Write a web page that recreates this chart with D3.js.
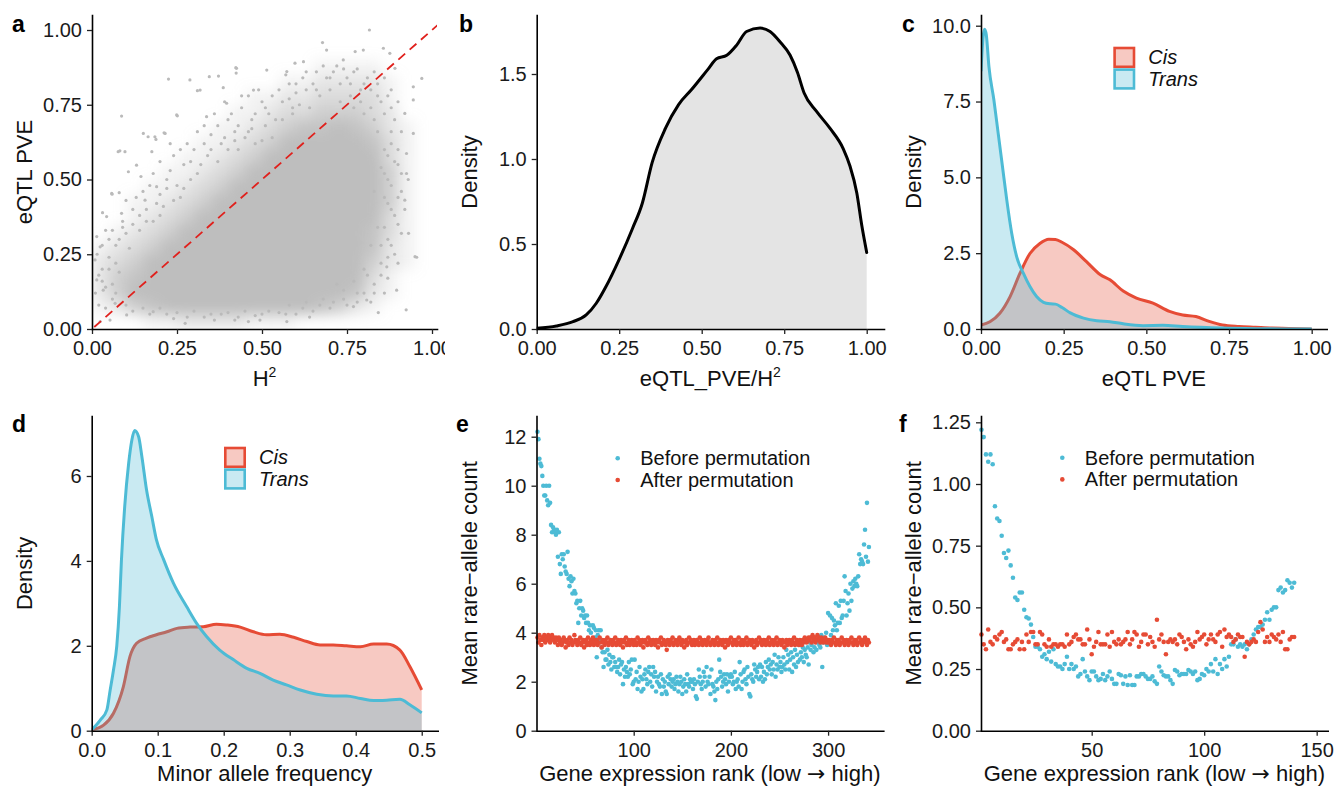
<!DOCTYPE html>
<html><head><meta charset="utf-8">
<script src="https://cdn.jsdelivr.net/npm/d3@7"></script>
<style>body{margin:0;background:#fff}</style>
</head><body>
<svg id="c" width="1335" height="787"></svg>
<script>
// ---------------- DATA ----------------
// Panel a: density of the point cloud (rows top→bottom, y bins of 0.05 from 1.0 down; cols x bins of 0.05), 0–9
const aDensity = [
 [0,0,0,0,0,0,0,0,0,0,0,0,0,0,0,0,0,0,0,0],
 [0,0,0,0,0,0,0,0,0,0,0,0,0,0,0,0,0,0,0,0],
 [0,0,0,0,0,0,0,0,0,0,0,0,0,1,1,1,1,0,0,0],
 [0,0,0,0,0,0,0,0,0,0,0,1,1,2,2,2,2,1,0,0],
 [0,0,0,0,0,0,0,0,0,1,1,2,2,3,3,3,3,1,0,0],
 [0,0,0,0,0,0,0,0,1,1,2,3,3,4,4,4,3,2,0,0],
 [0,0,0,0,0,0,0,1,1,2,3,4,5,5,6,5,4,2,1,0],
 [0,0,0,0,0,0,1,1,2,3,4,6,7,7,7,6,5,3,1,0],
 [0,0,0,0,0,1,1,2,3,4,6,7,8,8,8,7,6,3,1,0],
 [0,0,0,0,1,1,2,3,4,6,7,8,9,9,9,8,6,4,1,0],
 [0,0,0,1,1,2,3,4,6,7,8,9,9,9,9,9,6,4,1,0],
 [0,0,1,1,2,3,4,6,7,8,9,9,9,9,9,9,6,4,1,0],
 [0,0,1,2,3,4,6,7,8,9,9,9,9,9,9,8,6,3,1,0],
 [0,1,2,3,4,6,7,8,9,9,9,9,9,9,9,8,5,3,1,0],
 [1,2,3,4,6,7,8,9,9,9,9,9,9,9,9,8,5,2,1,0],
 [2,3,4,6,7,8,9,9,9,9,9,9,9,9,9,7,4,2,1,0],
 [2,4,5,7,8,9,9,9,9,9,9,9,9,9,8,6,3,1,0,0],
 [2,4,6,7,8,9,9,9,9,9,9,9,9,8,7,5,2,1,0,0],
 [1,2,4,5,6,7,8,8,8,8,7,7,6,5,4,2,1,0,0,0],
 [0,0,0,1,1,2,2,2,2,1,1,1,0,0,0,0,0,0,0,0]
];
// Panel a: individual scattered points [H2, eQTL PVE]
const aPoints = [
 [0.816,1.0],[0.678,0.958],[0.69,0.933],[0.774,0.928],[0.798,0.933],[0.857,0.939],[0.876,0.922],[0.97,0.838],[0.891,0.872],[0.622,0.894],
 [0.597,0.889],[0.425,0.872],[0.514,0.866],[0.573,0.861],[0.739,0.9],[0.225,0.836],[0.288,0.833],[0.372,0.846],[0.318,0.799],[0.475,0.799],
 [0.087,0.712],[0.249,0.716],[0.337,0.71],[0.396,0.755],[0.945,0.81],[0.945,0.766],[0.92,0.721],[0.945,0.654],[0.925,0.587],[0.925,0.52],
 [0.92,0.431],[0.931,0.32],[0.95,0.242],[0.955,0.24],[0.896,0.13],[0.924,0.064],[0.842,0.055],[0.867,0.208],[0.808,0.097],[0.769,0.075],
 [0.573,0.025],[0.494,0.03],[0.42,0.03],[0.274,0.019],[0.18,0.058],[0.102,0.047],[0.053,0.03],[0.024,0.025],[0.014,0.309],[0.024,0.275],
 [0.058,0.454],[0.077,0.593],[0.097,0.593],[0.107,0.526],[0.131,0.548],[0.151,0.654],[0.185,0.643],[0.215,0.654],[0.156,0.431],[0.19,0.476],
 [0.087,0.387],[0.043,0.376],[0.009,0.231],[0.014,0.164],[0.033,0.13],[0.068,0.086],[0.345,0.844],[0.423,0.874],[0.424,0.856],[0.31,0.797],
 [0.386,0.807],[0.251,0.713],[0.165,0.643],[0.212,0.656],[0.188,0.634],[0.082,0.596],[0.144,0.51],[0.059,0.451],[0.08,0.456],[0.031,0.389],
 [0.176,0.593],[0.2,0.45],[0.22,0.5],[0.25,0.48],[0.27,0.55],[0.24,0.58],[0.3,0.6],[0.32,0.55],[0.28,0.62],[0.35,0.65],
 [0.33,0.68],[0.38,0.62],[0.4,0.7],[0.42,0.66],[0.36,0.72],[0.44,0.74],[0.47,0.7],[0.5,0.76],[0.46,0.78],[0.52,0.72],
 [0.55,0.8],[0.58,0.77],[0.6,0.82],[0.57,0.85],[0.63,0.8],[0.66,0.86],[0.69,0.84],[0.72,0.88],[0.75,0.84],[0.78,0.87],
 [0.8,0.82],[0.83,0.86],[0.86,0.84],[0.88,0.8],[0.9,0.76],[0.89,0.7],[0.91,0.66],[0.88,0.62],[0.9,0.55],[0.87,0.5],
 [0.91,0.46],[0.88,0.4],[0.9,0.35],[0.87,0.3],[0.89,0.25],[0.85,0.22],[0.87,0.17],[0.83,0.15],[0.8,0.12],[0.78,0.09],
 [0.74,0.1],[0.7,0.07],[0.65,0.06],[0.6,0.05],[0.55,0.055],[0.5,0.05],[0.45,0.06],[0.4,0.055],[0.35,0.05],[0.3,0.06],
 [0.25,0.055],[0.2,0.07],[0.15,0.07],[0.1,0.08],[0.06,0.1],[0.04,0.14],[0.03,0.2],[0.05,0.24],[0.07,0.28],[0.1,0.32],
 [0.12,0.35],[0.14,0.38],[0.16,0.4],[0.18,0.36],[0.11,0.27],[0.08,0.19],[0.13,0.44],[0.17,0.48],[0.21,0.41],[0.23,0.53],
 [0.26,0.44],[0.29,0.5],[0.31,0.66],[0.34,0.58],[0.37,0.56],[0.39,0.76],[0.43,0.6],[0.45,0.64],[0.48,0.62],[0.51,0.68],
 [0.53,0.64],[0.56,0.7],[0.59,0.72],[0.61,0.75],[0.64,0.74],[0.67,0.78],[0.7,0.8],[0.73,0.76],[0.76,0.78],[0.79,0.76],
 [0.82,0.74],[0.84,0.78],[0.86,0.72],[0.84,0.66],[0.86,0.6],[0.85,0.54],[0.83,0.46],[0.86,0.44],[0.84,0.34],[0.82,0.28],
 [0.85,0.28],[0.8,0.2],[0.77,0.16],[0.81,0.18],[0.74,0.13],[0.72,0.15],[0.68,0.1],[0.63,0.09],[0.58,0.08],
 [0.06,0.33],[0.09,0.36],[0.12,0.4],[0.1,0.43],[0.15,0.46],[0.18,0.52],[0.2,0.56],[0.22,0.47],[0.24,0.43],[0.27,0.47],
 [0.29,0.56],[0.31,0.52],[0.33,0.62],[0.35,0.6],[0.26,0.6],[0.23,0.62],[0.19,0.42],[0.14,0.33],[0.16,0.36],[0.2,0.38],
 [0.37,0.68],[0.39,0.64],[0.41,0.72],[0.43,0.68],[0.44,0.78],[0.46,0.66],[0.48,0.72],[0.49,0.8],[0.51,0.74],[0.53,0.78],
 [0.54,0.7],[0.56,0.76],[0.58,0.82],[0.59,0.74],[0.6,0.79],[0.62,0.84],[0.4,0.6],[0.42,0.63],[0.47,0.67],[0.5,0.63],
 [0.63,0.86],[0.65,0.82],[0.66,0.8],[0.68,0.88],[0.7,0.84],[0.71,0.86],[0.73,0.82],[0.74,0.87],[0.76,0.82],[0.77,0.86],
 [0.79,0.8],[0.81,0.84],[0.82,0.8],[0.84,0.82],[0.85,0.76],[0.87,0.78],[0.88,0.74],[0.83,0.7],[0.8,0.72],[0.77,0.74],
 [0.88,0.66],[0.9,0.6],[0.89,0.56],[0.91,0.52],[0.88,0.48],[0.9,0.44],[0.89,0.38],[0.91,0.32],[0.88,0.28],[0.9,0.22],
 [0.87,0.24],[0.86,0.34],[0.87,0.42],[0.86,0.52],[0.87,0.58],[0.92,0.4],[0.93,0.5],[0.85,0.18],[0.83,0.12],[0.86,0.12],
 [0.12,0.06],[0.17,0.05],[0.22,0.05],[0.28,0.04],[0.33,0.04],[0.38,0.05],[0.43,0.04],[0.48,0.045],[0.52,0.06],[0.57,0.05],
 [0.62,0.07],[0.67,0.08],[0.71,0.09],[0.75,0.08],[0.78,0.12],[0.82,0.09],[0.64,0.04],[0.46,0.025],[0.36,0.03],[0.24,0.035],
 [0.01,0.12],[0.02,0.18],[0.015,0.25],[0.03,0.28],[0.04,0.33],[0.05,0.2],[0.06,0.15],[0.07,0.22],[0.08,0.3],[0.02,0.08],
 [0.04,0.07],[0.09,0.34],[0.05,0.3],[0.03,0.16],[0.07,0.12]
];
const aIdentity = [0, 1.02];

// Panel b: density of eQTL_PVE/H2
const bDensity = [[0,0.004],[0.06,0.018],[0.11,0.043],[0.15,0.083],[0.18,0.15],[0.21,0.25],[0.25,0.41],[0.29,0.59],[0.32,0.74],[0.35,0.98],
 [0.39,1.18],[0.43,1.32],[0.47,1.41],[0.52,1.53],[0.545,1.59],[0.576,1.61],[0.606,1.67],[0.636,1.75],[0.677,1.77],[0.707,1.75],
 [0.737,1.69],[0.768,1.61],[0.79,1.51],[0.81,1.39],[0.848,1.28],[0.889,1.18],[0.929,1.06],[0.949,0.96],[0.97,0.80],[0.985,0.61],[1.0,0.45]];

// Panel c: eQTL PVE densities
const cCis = [[0,0.13],[0.027,0.24],[0.057,0.52],[0.088,1.07],[0.118,1.84],[0.148,2.49],[0.178,2.82],[0.205,2.96],[0.225,2.95],[0.245,2.86],
 [0.279,2.62],[0.319,2.22],[0.36,1.80],[0.39,1.62],[0.43,1.25],[0.47,1.02],[0.52,0.85],[0.57,0.58],[0.61,0.46],[0.65,0.41],
 [0.69,0.25],[0.73,0.13],[0.78,0.08],[0.83,0.055],[0.88,0.03],[0.93,0.02],[1.0,0.0]];
const cTrans = [[0,8.5],[0.006,9.6],[0.011,9.88],[0.016,9.7],[0.024,8.65],[0.039,7.55],[0.052,6.45],[0.065,5.35],[0.078,4.25],[0.093,3.15],
 [0.108,2.38],[0.128,1.84],[0.148,1.40],[0.168,1.07],[0.189,0.88],[0.21,0.83],[0.225,0.82],[0.245,0.71],[0.27,0.53],[0.31,0.36],
 [0.35,0.27],[0.39,0.24],[0.43,0.17],[0.49,0.11],[0.55,0.12],[0.61,0.08],[0.73,0.03],[0.85,0.01],[1.0,0.0]];

// Panel d: minor allele frequency densities
const dCis = [[0,0.02],[0.018,0.13],[0.033,0.41],[0.048,1.04],[0.058,1.75],[0.068,2.06],[0.083,2.18],[0.098,2.26],[0.114,2.33],[0.129,2.41],
 [0.149,2.44],[0.169,2.45],[0.189,2.51],[0.205,2.49],[0.225,2.44],[0.245,2.33],[0.265,2.26],[0.285,2.27],[0.306,2.20],[0.326,2.10],
 [0.346,2.02],[0.366,2.02],[0.386,2.0],[0.407,1.98],[0.427,2.04],[0.447,2.04],[0.467,1.90],[0.482,1.51],[0.5,0.96]];
const dTrans = [[0,0.02],[0.013,0.25],[0.023,0.49],[0.028,0.96],[0.033,1.43],[0.038,2.0],[0.042,2.92],[0.045,4.0],[0.05,5.28],[0.056,6.3],
 [0.061,6.86],[0.065,7.07],[0.071,6.93],[0.076,6.46],[0.083,5.68],[0.091,5.05],[0.098,4.5],[0.109,4.03],[0.124,3.47],[0.144,2.92],
 [0.159,2.53],[0.174,2.22],[0.194,1.9],[0.215,1.67],[0.235,1.47],[0.255,1.35],[0.275,1.19],[0.295,1.08],[0.316,0.96],[0.341,0.86],
 [0.366,0.82],[0.386,0.82],[0.407,0.76],[0.427,0.71],[0.447,0.72],[0.467,0.74],[0.482,0.61],[0.5,0.42]];

// Panel e: mean rare-allele count by gene expression rank (1..342)
const eBefore = [
 12.2,11.9,11.1,10.9,10.8,10.4,10.0,9.6,9.6,10.0,9.4,9.2,10.0,9.3,8.4,8.1,8.3,8.2,8.1,8.0,
 8.2,7.1,8.1,6.8,6.4,7.2,7.0,7.2,6.7,6.5,6.4,7.3,6.2,5.9,6.3,6.1,5.6,6.2,5.7,5.6,
 5.2,5.3,4.4,5.0,5.3,4.7,5.0,4.9,4.6,4.7,4.4,4.7,4.4,4.1,4.3,4.0,3.6,4.3,4.2,3.8,
 4.1,3.0,3.9,4.1,3.7,4.1,3.4,3.2,2.6,3.2,2.9,2.9,3.3,2.7,3.1,2.8,2.5,3.0,3.0,2.6,
 2.8,2.6,2.4,2.6,2.9,2.3,2.7,2.8,1.9,2.5,2.2,2.6,2.4,2.2,2.8,2.3,2.5,2.9,1.9,2.0,
 2.9,2.1,2.4,1.7,2.0,2.6,2.2,1.6,2.1,1.7,2.3,2.5,2.1,1.9,2.4,2.6,2.0,2.3,1.8,2.6,
 2.2,2.4,1.6,2.0,2.2,1.9,1.8,2.3,1.5,2.1,1.8,2.0,1.6,1.5,2.2,1.9,2.3,2.1,1.8,2.0,
 2.1,1.7,1.9,2.2,2.0,1.6,1.9,2.2,2.0,1.5,1.8,2.1,1.9,1.6,2.3,1.9,1.8,2.1,2.0,2.0,
 1.7,2.1,1.9,1.4,1.3,2.0,2.5,2.2,1.9,1.7,2.0,2.4,2.2,1.8,2.6,2.0,1.9,2.2,1.5,2.5,
 1.9,1.8,1.6,1.25,2.0,1.7,2.1,2.9,2.4,2.2,1.8,2.0,2.3,2.1,1.9,2.3,1.6,2.0,2.2,2.3,
 2.2,1.9,2.0,2.4,1.7,2.0,2.1,1.8,2.8,2.3,1.7,2.0,2.4,2.5,2.1,1.9,2.6,2.2,1.5,1.4,
 2.3,2.1,2.0,2.7,2.5,2.2,2.4,2.6,2.1,2.7,2.2,2.6,2.0,2.4,2.1,2.8,2.3,2.6,2.9,2.5,
 2.7,2.3,2.8,2.5,3.1,2.2,2.7,2.5,3.0,2.6,2.8,2.4,2.6,3.0,2.7,2.5,3.3,2.8,3.1,2.5,
 2.9,3.2,2.4,3.0,2.7,3.3,2.6,3.1,2.8,3.5,2.9,3.2,3.0,3.4,2.8,3.3,3.1,3.0,3.4,2.7,
 3.6,3.3,3.5,3.8,3.2,3.4,3.7,3.3,3.6,3.7,3.5,3.4,3.9,2.6,3.6,3.8,3.7,4.0,3.5,4.8,
 3.6,4.7,3.9,4.6,4.1,4.5,4.3,5.2,4.1,4.4,5.1,4.4,5.3,4.6,4.7,5.3,6.3,5.7,4.7,5.2,
 5.6,4.9,6.0,5.3,5.8,6.1,5.9,6.2,6.0,5.9,6.3,7.2,6.8,7.0,6.9,6.8,7.6,8.2,7.1,9.3,6.9,7.5
];
const eAfter = [
 3.8,3.6,3.9,3.7,3.5,3.8,3.7,3.9,3.6,3.8,3.7,3.9,3.8,3.6,3.7,3.9,3.8,3.7,3.6,3.8,
 3.7,3.5,3.8,3.6,3.7,3.5,3.6,3.8,3.7,3.4,3.6,3.7,3.5,3.8,3.6,3.7,3.5,3.6,3.9,3.7,
 3.6,3.5,3.7,3.6,3.8,3.5,3.6,3.7,3.4,3.6,3.7,3.5,3.8,3.6,3.5,3.7,3.6,3.8,3.5,3.7,
 3.6,3.7,3.5,3.6,3.8,3.6,3.4,3.7,3.6,3.5,3.7,3.6,3.8,3.5,3.6,3.7,3.6,3.5,3.7,3.6,
 3.8,3.5,3.6,3.7,3.6,3.5,3.7,3.6,3.4,3.7,3.6,3.8,3.5,3.6,3.7,3.5,3.6,3.7,3.6,3.5,
 3.7,3.6,3.5,3.8,3.6,3.7,3.5,3.6,3.7,3.4,3.6,3.7,3.6,3.5,3.8,3.6,3.7,3.5,3.6,3.7,
 3.6,3.5,3.7,3.6,3.4,3.7,3.6,3.8,3.5,3.6,3.7,3.6,3.5,3.3,3.7,3.6,3.5,3.7,3.6,3.8,
 3.5,3.6,3.7,3.6,3.5,3.7,3.8,3.6,3.5,3.7,3.6,3.4,3.6,3.7,3.5,3.6,3.8,3.6,3.7,3.5,
 3.6,3.7,3.5,3.6,3.7,3.6,3.5,3.8,3.6,3.7,3.5,3.6,3.7,3.6,3.5,3.7,3.8,3.6,3.5,3.6,
 3.7,3.6,3.5,3.7,3.6,3.8,3.5,3.6,3.7,3.6,3.5,3.7,3.6,3.4,3.7,3.6,3.5,3.7,3.6,3.8,
 3.6,3.5,3.7,3.6,3.7,3.5,3.6,3.8,3.6,3.5,3.7,3.6,3.5,3.7,3.6,3.8,3.5,3.6,3.7,3.6,
 3.5,3.7,3.6,3.4,3.6,3.7,3.5,3.6,3.8,3.6,3.7,3.5,3.6,3.7,3.6,3.5,3.7,3.6,3.8,3.5,
 3.6,3.7,3.6,3.5,3.7,3.6,3.8,3.5,3.6,3.7,3.6,3.5,3.7,3.6,3.4,3.6,3.7,3.5,3.6,3.7,
 3.6,3.5,3.7,3.6,3.8,3.5,3.6,3.7,3.6,3.5,3.7,3.6,3.5,3.7,3.6,3.8,3.7,3.6,3.7,3.8,
 3.7,3.8,3.6,3.9,3.7,3.8,3.6,3.7,3.9,3.8,3.7,3.6,3.8,3.7,3.6,3.7,3.8,3.6,3.7,3.6,
 3.7,3.6,3.5,3.7,3.6,3.8,3.6,3.5,3.7,3.6,3.7,3.5,3.6,3.8,3.6,3.7,3.5,3.6,3.7,3.6,
 3.5,3.7,3.6,3.8,3.6,3.5,3.7,3.6,3.7,3.5,3.6,3.8,3.6,3.7,3.5,3.6,3.7,3.8,3.6,3.5,3.7,3.6
];
// Panel f: mean rare-allele count by gene expression rank (1..140)
const fBefore = [
 1.22,1.19,1.12,1.09,1.12,1.08,0.91,0.86,0.85,0.79,
 0.72,0.70,0.73,0.67,0.62,0.54,0.53,0.56,0.56,0.49,
 0.46,0.455,0.43,0.38,0.34,0.34,0.33,0.30,0.31,0.29,
 0.32,0.28,0.33,0.27,0.26,0.26,0.25,0.27,0.30,0.25,
 0.27,0.25,0.26,0.22,0.23,0.29,0.24,0.22,0.205,0.24,
 0.24,0.22,0.205,0.21,0.23,0.205,0.22,0.24,0.21,0.19,
 0.19,0.23,0.225,0.19,0.22,0.185,0.225,0.185,0.185,0.22,
 0.22,0.23,0.23,0.22,0.21,0.21,0.22,0.20,0.19,0.26,
 0.24,0.225,0.22,0.22,0.205,0.19,0.246,0.24,0.225,0.23,
 0.23,0.23,0.246,0.24,0.23,0.24,0.205,0.21,0.23,0.225,
 0.25,0.24,0.27,0.24,0.29,0.23,0.27,0.25,0.29,0.26,
 0.30,0.35,0.35,0.37,0.34,0.35,0.34,0.35,0.33,0.35,
 0.37,0.39,0.41,0.42,0.42,0.43,0.45,0.48,0.45,0.49,
 0.50,0.50,0.57,0.58,0.56,0.57,0.61,0.60,0.58,0.60
];
const fAfter = [
 0.39,0.35,0.33,0.41,0.36,0.35,0.38,0.37,0.39,0.40,
 0.36,0.37,0.33,0.33,0.35,0.36,0.37,0.33,0.36,0.33,
 0.39,0.36,0.40,0.40,0.35,0.35,0.40,0.39,0.35,0.34,
 0.37,0.34,0.35,0.35,0.34,0.35,0.35,0.34,0.39,0.35,
 0.36,0.38,0.39,0.37,0.37,0.35,0.35,0.41,0.37,0.31,
 0.34,0.36,0.40,0.35,0.35,0.35,0.39,0.34,0.40,0.36,
 0.35,0.37,0.35,0.36,0.37,0.40,0.35,0.37,0.40,0.39,
 0.34,0.36,0.39,0.39,0.35,0.38,0.36,0.34,0.45,0.37,
 0.39,0.36,0.31,0.36,0.37,0.36,0.37,0.35,0.39,0.38,
 0.36,0.33,0.37,0.35,0.34,0.36,0.40,0.37,0.38,0.39,
 0.35,0.37,0.39,0.37,0.36,0.39,0.40,0.34,0.41,0.38,
 0.39,0.38,0.36,0.37,0.39,0.38,0.38,0.30,0.36,0.35,
 0.36,0.37,0.36,0.40,0.44,0.41,0.36,0.38,0.36,0.39,
 0.38,0.37,0.39,0.36,0.40,0.33,0.33,0.37,0.38,0.38
];

// Tick values
const ticks01 = [0, 0.25, 0.5, 0.75, 1];
const bYTicks = [0, 0.5, 1, 1.5];
const cYTicks = [0, 2.5, 5, 7.5, 10];
const dXTicks = [0, 0.1, 0.2, 0.3, 0.4, 0.5];
const dYTicks = [0, 2, 4, 6];
const eXTicks = [100, 200, 300];
const eYTicks = [0, 2, 4, 6, 8, 10, 12];
const fXTicks = [50, 100, 150];
const fYTicks = [0, 0.25, 0.5, 0.75, 1, 1.25];
const groupLabels = ["Cis", "Trans"];
const permLabels = ["Before permutation", "After permutation"];

// ---------------- DRAWING ----------------
const FONT = '"Liberation Sans", Arial, Helvetica, sans-serif';
const RED = "#E64B35", BLUE = "#4DBBD5";
const svg = d3.select("#c").attr("font-family", FONT);
const defs = svg.append("defs");
defs.append("filter").attr("id", "blurA").attr("x", "-20%").attr("y", "-20%").attr("width", "140%").attr("height", "140%")
  .append("feGaussianBlur").attr("stdDeviation", 6.5);

function panel(cfg) {
  const g = svg.append("g");
  const x = d3.scaleLinear().domain(cfg.xd).range([cfg.L, cfg.R]);
  const y = d3.scaleLinear().domain(cfg.yd).range([cfg.B, cfg.T]);
  const id = "clip" + cfg.name;
  defs.append("clipPath").attr("id", id).append("rect")
    .attr("x", cfg.L).attr("y", cfg.T).attr("width", cfg.R - cfg.L).attr("height", cfg.B - cfg.T);
  const plot = g.append("g").attr("clip-path", `url(#${id})`);
  const free = g.append("g");
  return { g, x, y, plot, free, cfg };
}

function axes(p) {
  const c = p.cfg;
  const gx = p.g.append("g").attr("transform", `translate(0,${c.B})`)
    .call(d3.axisBottom(p.x).tickValues(c.xt).tickFormat(c.xf).tickSize(5).tickSizeOuter(0).tickPadding(7));
  const gy = p.g.append("g").attr("transform", `translate(${c.L},0)`)
    .call(d3.axisLeft(p.y).tickValues(c.yt).tickFormat(c.yf).tickSize(5).tickSizeOuter(0).tickPadding(5));
  [gx, gy].forEach(a => {
    a.attr("font-family", FONT).attr("font-size", 20);
    a.select(".domain").attr("stroke", "#000").attr("stroke-width", 1.6).attr("stroke-linecap", "square");
    a.selectAll(".tick line").attr("stroke", "#222").attr("stroke-width", 1.3);
    a.selectAll(".tick text").attr("fill", "#1a1a1a");
  });
  const xt = p.g.append("text").attr("x", (c.L + c.R) / 2).attr("y", c.B + c.xty)
    .attr("text-anchor", "middle").attr("font-size", 22).attr("fill", "#111");
  if (c.xarrow) {
    xt.append("tspan").text(c.xtitle[0]);
    xt.append("tspan").attr("font-family", '"DejaVu Sans", sans-serif').text(c.xarrow);
    xt.append("tspan").text(c.xtitle[1]);
  } else {
    xt.append("tspan").text(c.xtitle);
  }
  if (c.xsup) xt.append("tspan").attr("font-size", 14).attr("dy", -9).text(c.xsup);
  p.g.append("text").attr("transform", `translate(${c.L - 60},${(c.T + c.B) / 2}) rotate(-90)`)
    .attr("text-anchor", "middle").attr("font-size", 22).attr("fill", "#111").text(c.ytitle);
  p.g.append("text").attr("x", c.lx).attr("y", c.ly).attr("font-size", 23).attr("font-weight", "bold")
    .attr("fill", "#000").text(c.name);
}

function densLegend(p, x0, y0) {
  const cols = [RED, BLUE];
  groupLabels.forEach((lab, i) => {
    p.free.append("rect").attr("x", x0 + 1.3).attr("y", y0 + 1.3 + i * 21.6).attr("width", 19.4).attr("height", 18.8)
      .attr("fill", cols[i]).attr("fill-opacity", 0.3).attr("stroke", cols[i]).attr("stroke-width", 2.6);
    p.free.append("text").attr("x", x0 + 35).attr("y", y0 + 17.3 + i * 21.6).attr("font-size", 20)
      .attr("font-style", "italic").attr("fill", "#111").text(lab);
  });
}

function pointLegend(p, x0, y0) {
  const cols = [BLUE, RED];
  permLabels.forEach((lab, i) => {
    p.free.append("circle").attr("cx", x0).attr("cy", y0 + i * 21.7).attr("r", 2.3).attr("fill", cols[i]);
    p.free.append("text").attr("x", x0 + 22.5).attr("y", y0 + 7 + i * 21.7).attr("font-size", 20)
      .attr("fill", "#111").text(lab);
  });
}

function densPair(p, cis, trans) {
  const area = d3.area().x(d => p.x(d[0])).y0(p.y(0)).y1(d => p.y(d[1])).curve(d3.curveMonotoneX);
  const line = d3.line().x(d => p.x(d[0])).y(d => p.y(d[1])).curve(d3.curveMonotoneX);
  p.plot.append("path").datum(cis).attr("d", area).attr("fill", RED).attr("fill-opacity", 0.3);
  p.plot.append("path").datum(cis).attr("d", line).attr("fill", "none").attr("stroke", RED).attr("stroke-width", 3);
  p.plot.append("path").datum(trans).attr("d", area).attr("fill", BLUE).attr("fill-opacity", 0.3);
  p.plot.append("path").datum(trans).attr("d", line).attr("fill", "none").attr("stroke", BLUE).attr("stroke-width", 3);
}

const f2 = d3.format(".2f"), f1 = d3.format(".1f"), f0 = d3.format("d");
const rankTitle = ["Gene expression rank (low ", " high)"];

// ----- Panel a -----
const pa = panel({ name: "a", L: 92, R: 437, T: 15, B: 329, xd: [0, 1.0147], yd: [0, 1.0502],
  xt: ticks01, yt: ticks01, xf: f2, yf: f2, xtitle: "H", xsup: "2", xty: 57, ytitle: "eQTL PVE", lx: 12, ly: 32 });
{
  const blob = pa.plot.append("g").attr("filter", "url(#blurA)");
  const step = 0.05;
  aDensity.forEach((row, r) => row.forEach((v, c) => {
    if (!v) return;
    const x0 = c * step, yTop = 1 - r * step;
    blob.append("rect").attr("x", pa.x(x0)).attr("y", pa.y(yTop))
      .attr("width", pa.x(x0 + step) - pa.x(x0) + 0.5).attr("height", pa.y(yTop - step) - pa.y(yTop) + 0.5)
      .attr("fill", "#bebebe").attr("fill-opacity", Math.min(1, v / 5.5));
  }));
  pa.plot.selectAll("circle.pt").data(aPoints).join("circle").attr("class", "pt")
    .attr("cx", d => pa.x(d[0])).attr("cy", d => pa.y(d[1])).attr("r", 1.6).attr("fill", "#bababa");
  pa.plot.append("line").attr("x1", pa.x(aIdentity[0])).attr("y1", pa.y(aIdentity[0]))
    .attr("x2", pa.x(aIdentity[1])).attr("y2", pa.y(aIdentity[1]))
    .attr("stroke", "#e0201c").attr("stroke-width", 1.8).attr("stroke-dasharray", "9,6").attr("stroke-dashoffset", -3);
}
axes(pa);
// panel b background cuts panel a's last tick label (as in the figure)
svg.append("rect").attr("x", 445).attr("y", 335).attr("width", 20).attr("height", 35).attr("fill", "#fff");

// ----- Panel b -----
const pb = panel({ name: "b", L: 536.7, R: 884, T: 15, B: 329, xd: [0, 1.0524], yd: [0, 1.847],
  xt: ticks01, yt: bYTicks, xf: f2, yf: f1, xtitle: "eQTL_PVE/H", xsup: "2", xty: 57, ytitle: "Density", lx: 459, ly: 32 });
{
  const area = d3.area().x(d => pb.x(d[0])).y0(pb.y(0)).y1(d => pb.y(d[1])).curve(d3.curveMonotoneX);
  const line = d3.line().x(d => pb.x(d[0])).y(d => pb.y(d[1])).curve(d3.curveMonotoneX);
  pb.plot.append("path").datum(bDensity).attr("d", area).attr("fill", "#e4e4e4");
  pb.plot.append("path").datum(bDensity).attr("d", line).attr("fill", "none").attr("stroke", "#000")
    .attr("stroke-width", 3).attr("stroke-linecap", "round");
}
axes(pb);

// ----- Panel c -----
const pc = panel({ name: "c", L: 981, R: 1326.7, T: 15, B: 329, xd: [0, 1.0454], yd: [0, 10.353],
  xt: ticks01, yt: cYTicks, xf: f2, yf: f1, xtitle: "eQTL PVE", xty: 57, ytitle: "Density", lx: 902, ly: 32 });
densPair(pc, cCis, cTrans);
densLegend(pc, 1113.3, 46.7);
axes(pc);

// ----- Panel d -----
const pd = panel({ name: "d", L: 91.7, R: 437.7, T: 416, B: 730.7, xd: [0, 0.5242], yd: [0, 7.413],
  xt: dXTicks, yt: dYTicks, xf: f1, yf: f0, xtitle: "Minor allele frequency", xty: 50.5, ytitle: "Density", lx: 12, ly: 431.7 });
densPair(pd, dCis, dTrans);
densLegend(pd, 224, 446.7);
axes(pd);

// ----- Panel e -----
const pe = panel({ name: "e", L: 536.5, R: 883.3, T: 416, B: 730.7, xd: [0, 356.8], yd: [0, 12.845],
  xt: eXTicks, yt: eYTicks, xf: f0, yf: f0, xtitle: rankTitle, xarrow: "\u2192", xty: 50.5,
  ytitle: "Mean rare\u2212allele count", lx: 456, ly: 431.7 });
pe.free.selectAll("circle.b").data(eBefore).join("circle").attr("class", "b")
  .attr("cx", (d, i) => pe.x(i + 1)).attr("cy", d => pe.y(d)).attr("r", 2.3).attr("fill", BLUE);
pe.free.selectAll("circle.r").data(eAfter).join("circle").attr("class", "r")
  .attr("cx", (d, i) => pe.x(i + 1)).attr("cy", d => pe.y(d)).attr("r", 2.3).attr("fill", RED);
pointLegend(pe, 617.7, 458.3);
axes(pe);

// ----- Panel f -----
const pf = panel({ name: "f", L: 981, R: 1327.7, T: 416, B: 730.7, xd: [0.8, 154.9], yd: [0, 1.2756],
  xt: fXTicks, yt: fYTicks, xf: f0, yf: f2, xtitle: rankTitle, xarrow: "\u2192", xty: 50.5,
  ytitle: "Mean rare\u2212allele count", lx: 899, ly: 431.7 });
pf.free.selectAll("circle.b").data(fBefore).join("circle").attr("class", "b")
  .attr("cx", (d, i) => pf.x(i + 1)).attr("cy", d => pf.y(d)).attr("r", 2.3).attr("fill", BLUE);
pf.free.selectAll("circle.r").data(fAfter).join("circle").attr("class", "r")
  .attr("cx", (d, i) => pf.x(i + 1)).attr("cy", d => pf.y(d)).attr("r", 2.3).attr("fill", RED);
pointLegend(pf, 1062.3, 457.7);
axes(pf);
</script>
</body></html>
